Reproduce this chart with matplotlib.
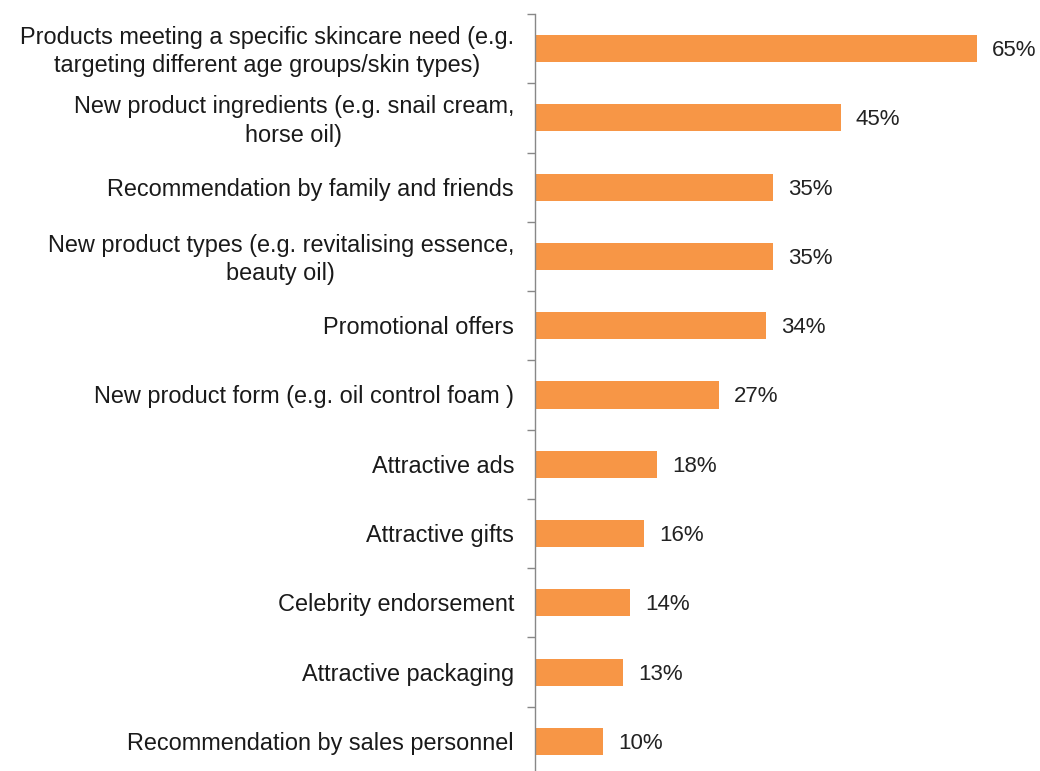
import matplotlib
matplotlib.use("Agg")
import matplotlib.pyplot as plt
import matplotlib.transforms as mtransforms
import numpy as np

categories = [
    "Products meeting a specific skincare need (e.g.\ntargeting different age groups/skin types)",
    "New product ingredients (e.g. snail cream,\nhorse oil)",
    "Recommendation by family and friends",
    "New product types (e.g. revitalising essence,\nbeauty oil)",
    "Promotional offers",
    "New product form (e.g. oil control foam )",
    "Attractive ads",
    "Attractive gifts",
    "Celebrity endorsement",
    "Attractive packaging",
    "Recommendation by sales personnel",
]
values = [65, 45, 35, 35, 34, 27, 18, 16, 14, 13, 10]
value_labels = ["65%", "45%", "35%", "35%", "34%", "27%", "18%", "16%", "14%", "13%", "10%"]

plt.rcParams['font.family'] = ['Liberation Sans', 'DejaVu Sans']

fig = plt.figure(figsize=(10.4, 7.71), dpi=100)
ax = fig.add_axes([535/1040, -5/771, 505/1040, 762/771])

n = len(categories)
pos = np.arange(n)
ax.barh(pos, values, height=0.39, color="#F79646", zorder=2)
ax.set_ylim(n - 0.5, -0.5)
ax.set_xlim(0, 505/6.8)

for p, v, lab in zip(pos, values, value_labels):
    ax.annotate(lab, xy=(v, p), xytext=(15, -2), textcoords="offset pixels",
                va="center", ha="left", fontsize=16, color="#222222")

# category labels, placed left of the axis
base = mtransforms.blended_transform_factory(ax.transAxes, ax.transData)
for p, cat in zip(pos, categories):
    dy = -3 if "\n" in cat else -2
    tr = base + mtransforms.Affine2D().translate(-21, dy)
    ax.text(0, p, cat, transform=tr, ha="right", va="center", multialignment="center",
            fontsize=16.9, color="#1a1a1a", linespacing=1.3, clip_on=False)

# ticks at category boundaries
ax.set_yticks(np.arange(-0.5, n, 1.0))
ax.set_yticklabels([])
ax.tick_params(axis="y", which="major", length=5.8, color="#888888", width=1)

ax.set_xticks([])
for s in ["top", "right", "bottom"]:
    ax.spines[s].set_visible(False)
ax.spines["left"].set_color("#888888")
ax.spines["left"].set_linewidth(1)

fig.savefig("out.png", dpi=100)
